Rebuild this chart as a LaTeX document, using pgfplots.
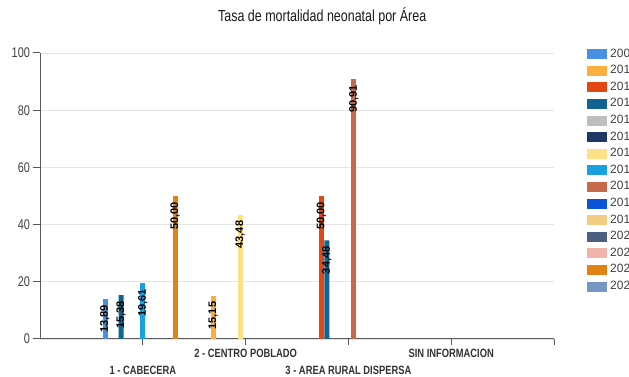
\documentclass[border=0pt]{standalone}
\usepackage{fontspec}
\setmainfont{Liberation Sans}
\newfontfamily\narrowfont{Liberation Sans}[FakeStretch=0.78]
\usepackage{pgfplots}
\pgfplotsset{compat=1.18}
\definecolor{c09}{RGB}{74,144,226}
\definecolor{c10}{RGB}{250,176,60}
\definecolor{c11}{RGB}{226,72,20}
\definecolor{c12}{RGB}{15,100,145}
\definecolor{c13}{RGB}{190,190,190}
\definecolor{c14}{RGB}{30,55,100}
\definecolor{c15}{RGB}{253,225,135}
\definecolor{c16}{RGB}{25,160,225}
\definecolor{c17}{RGB}{200,105,75}
\definecolor{c18}{RGB}{10,85,215}
\definecolor{c19}{RGB}{240,205,130}
\definecolor{c20}{RGB}{75,95,128}
\definecolor{c21}{RGB}{240,180,170}
\definecolor{c22}{RGB}{225,130,20}
\definecolor{c23}{RGB}{120,150,195}
\begin{document}
\begin{tikzpicture}
\useasboundingbox (0pt,0pt) rectangle (629pt,377pt);
\clip (0pt,0pt) rectangle (629pt,377pt);
\begin{axis}[
  at={(40pt,38pt)}, anchor=south west,
  scale only axis, width=514pt, height=286pt,
  xmin=-1, xmax=4, ymin=0, ymax=100,
  ytick={0,20,40,60,80,100},
  ymajorgrids, grid style={draw=black!10, line width=0.9pt},
  axis x line*=bottom, axis y line*=left,
  axis line style={draw=black!65, line width=1pt},
  tick style={draw=black!65, line width=1pt},
  major tick length=6.5pt, tick align=outside,
  xtick={1,3,4}, xticklabels={2 - CENTRO POBLADO, SIN INFORMACION, {}},
  extra x ticks={0,2}, extra x tick labels={1 - CABECERA, 3 - AREA RURAL DISPERSA},
  extra x tick style={xticklabel style={yshift=-17pt}},
  xticklabel style={font=\narrowfont\bfseries\fontsize{12}{12}\selectfont, text=black!80},
  yticklabel style={font=\narrowfont\fontsize{14}{14}\selectfont, text=black!75},
  /pgf/number format/assume math mode=true,
  title={Tasa de mortalidad neonatal por Área},
  every axis title/.style={at={(0.549,1.129)}, anchor=center, font=\narrowfont\fontsize{16}{16}\selectfont, text=black!90},
  ybar, bar width=5pt,
  legend image code/.code={\path[#1,draw=none] (0pt,-5pt) rectangle (20pt,5pt);},
  legend style={at={(1.0642,1.014)}, anchor=north west, draw=none, fill=none,
    inner sep=0pt, row sep=6.6pt, column sep=3pt,
    nodes={inner sep=0pt, text height=8pt, text depth=2pt},
    font=\fontsize{12}{12}\selectfont, text=black!75},
  legend cell align=left,
  nodes near coords={\rotatebox{90}{\pgfmathprintnumber[fixed,fixed zerofill,precision=2,use comma,assume math mode=true]{\pgfplotspointmeta}}},
  every node near coord/.append style={anchor=north, yshift=-6pt, inner sep=0pt,
    font=\bfseries\fontsize{11}{11}\selectfont, text=black},
]
\addplot[fill=c09, draw=none, bar shift=-37.8pt] coordinates {(0,13.89)};
\addlegendentry{2009}
\addplot[fill=c10, draw=none, bar shift=-32.4pt] coordinates {(1,15.15)};
\addlegendentry{2010}
\addplot[fill=c11, draw=none, bar shift=-27pt] coordinates {(2,50.00)};
\addlegendentry{2011}
\addplot[fill=c12, draw=none, bar shift=-21.6pt] coordinates {(0,15.38) (2,34.48)};
\addlegendentry{2012}
\addlegendimage{fill=c13}
\addlegendentry{2013}
\addlegendimage{fill=c14}
\addlegendentry{2014}
\addplot[fill=c15, draw=none, bar shift=-5.4pt] coordinates {(1,43.48)};
\addlegendentry{2015}
\addplot[fill=c16, draw=none, bar shift=0pt] coordinates {(0,19.61)};
\addlegendentry{2016}
\addplot[fill=c17, draw=none, bar shift=5.4pt] coordinates {(2,90.91)};
\addlegendentry{2017}
\addlegendimage{fill=c18}
\addlegendentry{2018}
\addlegendimage{fill=c19}
\addlegendentry{2019}
\addlegendimage{fill=c20}
\addlegendentry{2020}
\addlegendimage{fill=c21}
\addlegendentry{2021}
\addplot[fill=c22, draw=none, bar shift=32.4pt] coordinates {(0,50.00)};
\addlegendentry{2022}
\addlegendimage{fill=c23}
\addlegendentry{2023}
\end{axis}
\end{tikzpicture}
\end{document}
